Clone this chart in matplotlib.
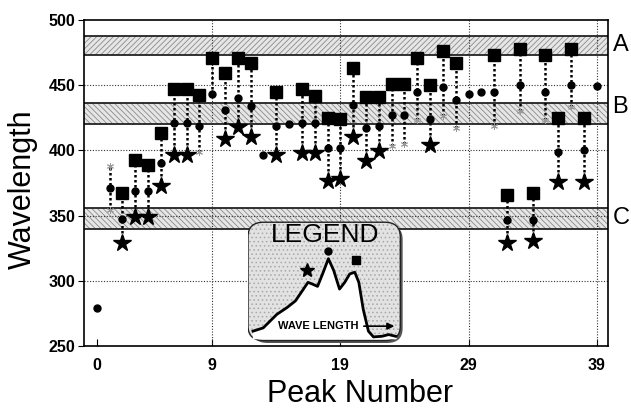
import numpy as np
import matplotlib
matplotlib.use('Agg')
import matplotlib.pyplot as plt
from matplotlib.patches import FancyBboxPatch

plt.rcParams['font.family'] = ['Liberation Sans', 'DejaVu Sans']
plt.rcParams['hatch.linewidth'] = 0.6

# values (peak number -> wavelength)
square_peaks = [2, 3, 4, 5, 6, 7, 8, 9, 10, 11, 12, 14, 16, 17, 18, 19, 20, 21, 22, 23, 24,
                25, 26, 27, 28, 31, 32, 33, 34, 35, 36, 37, 38]
square_vals = [367, 393, 389, 413, 447, 447, 442.5, 471, 459, 471, 467, 445, 447, 442, 425, 424,
               463, 441, 441, 451, 451, 471, 450, 476, 467, 473.5, 365.5, 477.5, 367, 473.5,
               424.5, 478, 424.5]

circle_peaks = [0, 1, 2, 3, 4, 5, 6, 7, 8, 9, 10, 11, 12, 13, 14, 15, 16, 17, 18, 19, 20, 21,
                22, 23, 24, 25, 26, 27, 28, 29, 30, 31, 32, 33, 34, 35, 36, 37, 38, 39]
circle_vals = [279, 371.5, 347.5, 369, 369, 390.5, 421, 421, 419, 443, 431, 440.5, 434, 396.5,
               419, 420, 421, 421, 401.5, 401.5, 435, 417, 419, 427, 427, 445, 424, 449, 439,
               443, 445, 445, 347, 450, 347, 445, 399, 450, 400, 449.5]

star_peaks = [2, 3, 4, 5, 6, 7, 10, 11, 12, 14, 16, 17, 18, 19, 20, 21, 22, 26, 32, 34, 36, 38]
star_vals = [329, 349, 349, 373, 396.5, 396.5, 409, 418, 410.5, 396.5, 398, 398, 376.5, 378,
             410.5, 392, 399.5, 404, 329, 330.5, 375.5, 375.5]

small_peaks = [1, 1, 8, 23, 24, 25, 27, 28, 31, 33, 35, 37]
small_vals = [388, 354, 399, 403, 405, 423, 426, 417, 419, 430, 423, 433]

bands = {'A': (473, 488), 'B': (420, 436), 'C': (340, 356)}
band_hatch = {'A': '//////', 'B': '\\\\\\\\\\\\', 'C': '\\\\\\\\\\\\'}
band_label_y = {'A': 481, 'B': 433, 'C': 348}

x_ticks = [0, 9, 19, 29, 39]
y_ticks = [250, 300, 350, 400, 450, 500]

# legend sketch (spectrum shape)
curve_x = [0.032, 0.097, 0.184, 0.248, 0.302, 0.346, 0.382, 0.410, 0.443, 0.475, 0.512, 0.546,
           0.583, 0.616, 0.648, 0.680, 0.706, 0.734, 0.767, 0.799, 0.853, 0.896, 0.940]
curve_y = [0.097, 0.124, 0.235, 0.290, 0.345, 0.428, 0.497, 0.483, 0.464, 0.566, 0.691, 0.594,
           0.442, 0.497, 0.566, 0.580, 0.497, 0.276, 0.097, 0.050, 0.055, 0.069, 0.055]

fig = plt.figure(figsize=(6.31, 4.09), dpi=100)
ax = fig.add_axes([84 / 631, 63 / 409, 524.3 / 631, 326 / 409])

# shaded bands
for name, (lo, hi) in bands.items():
    ax.axhspan(lo, hi, facecolor='#e6e6e6', edgecolor='#8a8a8a', hatch=band_hatch[name], lw=0, zorder=1)
    ax.axhline(lo, color='#222222', lw=1.3, zorder=2)
    ax.axhline(hi, color='#222222', lw=1.3, zorder=2)
    ax.text(1.008, band_label_y[name], name, transform=ax.get_yaxis_transform(),
            fontsize=17, va='center', ha='left')

# grid
for v in [300, 350, 400, 450]:
    ax.axhline(v, color='#333333', lw=0.8, ls=(0, (1, 1.5)), zorder=2)
for p in x_ticks[1:]:
    ax.axvline(p, color='#333333', lw=0.8, ls=(0, (1, 1.5)), zorder=2)

# vertical connectors
allpts = {}
for plist, vlist in [(square_peaks, square_vals), (circle_peaks, circle_vals),
                     (star_peaks, star_vals), (small_peaks, small_vals)]:
    for p, v in zip(plist, vlist):
        allpts.setdefault(p, []).append(v)
for p, vals in allpts.items():
    if len(vals) > 1:
        ax.plot([p, p], [min(vals), max(vals)], color='black', lw=1.8, ls=(0, (1, 1)), zorder=3)

ax.plot(small_peaks, small_vals, ls='none', marker=(6, 2, 0), ms=5, mew=0.7, color='#999999', zorder=4)
ax.plot(circle_peaks, circle_vals, ls='none', marker='o', ms=5, color='black', zorder=5)
ax.plot(square_peaks, square_vals, ls='none', marker='s', ms=8, color='black', zorder=5)
ax.plot(star_peaks, star_vals, ls='none', marker='*', ms=13, color='black', zorder=5)

ax.set_xlim(-1, 39.9)
ax.set_ylim(250, 500)
ax.set_xticks(x_ticks)
ax.set_yticks(y_ticks)
ax.tick_params(axis='x', direction='in', length=5, pad=9, labelsize=11.5)
ax.tick_params(axis='y', direction='out', length=4, pad=2, labelsize=11.5)
for lab in ax.get_xticklabels() + ax.get_yticklabels():
    lab.set_fontweight('bold')
for s in ax.spines.values():
    s.set_linewidth(1.2)

fig.text(23 / 631, 1 - 189 / 409, 'Wavelength', rotation=90, fontsize=22, ha='center', va='center')
fig.text(360 / 631, 1 - 402 / 409, 'Peak Number', fontsize=22, ha='center', va='baseline')

# legend inset
lax = fig.add_axes([248 / 631, 66 / 409, 157 / 631, 122 / 409])
lax.set_xlim(0, 1)
lax.set_ylim(0, 1)
lax.axis('off')
shadow = FancyBboxPatch((0.025, 0.0), 0.96, 0.97, boxstyle='round,pad=0,rounding_size=0.1',
                        mutation_aspect=1.2, facecolor='#555555', edgecolor='none')
lax.add_patch(shadow)
box = FancyBboxPatch((0.0, 0.02), 0.97, 0.97, boxstyle='round,pad=0,rounding_size=0.1',
                     mutation_aspect=1.2, facecolor='#e2e2e2', edgecolor='#a8a8a8', hatch='....', lw=0)
lax.add_patch(box)
lax.add_patch(FancyBboxPatch((0.0, 0.02), 0.97, 0.97, boxstyle='round,pad=0,rounding_size=0.1',
                             mutation_aspect=1.2, fill=False, edgecolor='#222222', lw=1.0))
lax.fill_between(curve_x, 0.04, curve_y, color='white', zorder=2)
lax.plot(curve_x, curve_y, color='black', lw=2, zorder=3)
lax.plot(0.374, 0.602, marker='*', ms=10, color='black')
lax.plot(0.512, 0.754, marker='o', ms=5, color='black')
lax.plot(0.685, 0.680, marker='s', ms=6, color='black')
lax.text(0.49, 0.885, 'LEGEND', fontsize=19, ha='center', va='center', zorder=4)
lax.text(0.45, 0.138, 'WAVE LENGTH', fontsize=8, fontweight='bold', ha='center', va='center', zorder=4)
lax.annotate('', xy=(0.95, 0.138), xytext=(0.72, 0.138),
             arrowprops=dict(arrowstyle='-|>', color='black', lw=1.2), zorder=4)

fig.savefig('out.png', dpi=100)
